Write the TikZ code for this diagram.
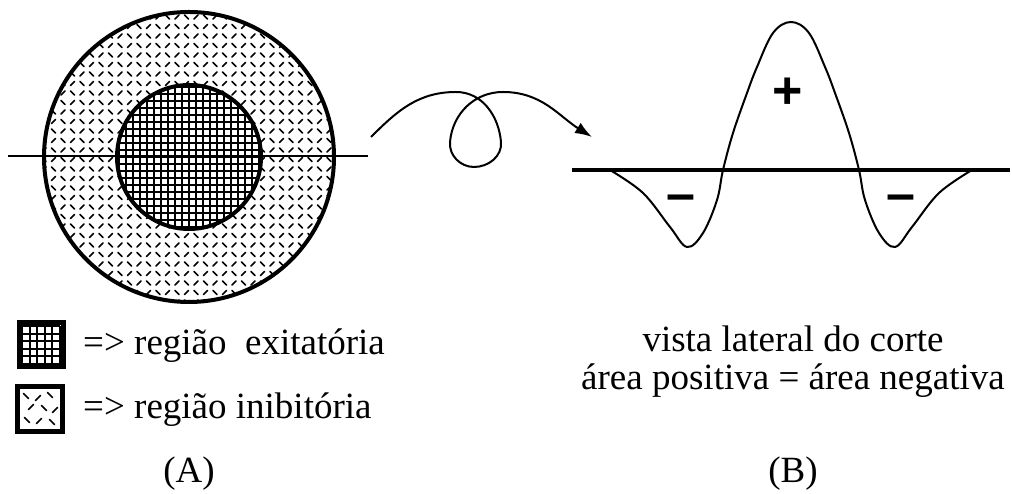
\documentclass[tikz,border=0pt]{standalone}
\usepackage{fontspec}
\setmainfont{Liberation Serif}
\newfontfamily\signfont{Liberation Sans}
\usetikzlibrary{arrows.meta,positioning}

\begin{document}
\begin{tikzpicture}[
		x=1pt,y=1pt,
		ring/.style={draw,line width=4pt},
		cut/.style={line width=1.4pt},
		gridline/.style={line width=1.6pt},
		dashmark/.style={line width=1.7pt,line cap=round},
		legendbox/.style={draw,line width=5pt,minimum size=44pt,inner sep=0pt},
		caption/.style={font=\fontsize{37}{44}\selectfont,inner sep=0pt},
		sign/.style={font=\signfont\bfseries\fontsize{52}{52}\selectfont,inner sep=0pt},
		curve/.style={line width=2pt},
		>={Latex[length=17pt,width=12pt]}
	]
	\useasboundingbox (0,0) rectangle (1012,494);

	% (A) receptive field
	\coordinate (field) at (189,337);
	\begin{scope}
		\clip (field) circle (144);
		\foreach \i in {0,...,31}
		\foreach \j in {0,...,31}{
			\ifodd\numexpr\i+\j\relax
				\draw[dashmark] ({44+\i*9.5-2},{192+\j*9.5+2}) -- ++(4,-4);
			\else
				\draw[dashmark] ({44+\i*9.5-2},{192+\j*9.5-2}) -- ++(4,4);
			\fi
		}
	\end{scope}
	\fill[white] (field) circle (72);
	\begin{scope}
		\clip (field) circle (72);
		\draw[gridline,shift={(field)}] (-84,-84) grid[step=7] (84,84);
	\end{scope}
	\draw[ring] (field) circle (72);
	\draw[ring] (field) circle (145);
	\coordinate (cutL) at (8,338);
	\coordinate (cutR) at (368,338);
	\draw[cut] (cutL) -- (cutR);

	% legend
	\node[legendbox] (exc) at (41,149) {};
	\draw[gridline,line width=2pt,shift={(22,130)}] (0,0) grid[step=7.6] (38,38);
	\node[legendbox,minimum size=45pt] (inh) at (40,85) {};
	\foreach \px/\py/\d in {26/98/1,38/96/0,50/99/1,31/87/0,44/86/1,55/84/0,27/74/1,39/73/0,52/72/1}{
		\ifnum\d=1
			\draw[dashmark] (\px-2.5,\py+2.5) -- ++(5,-5);
		\else
			\draw[dashmark] (\px-2.5,\py-2.5) -- ++(5,5);
		\fi
	}
	\node[caption,anchor=base west] (exctext) at (83,139) {=> região\ \ exitatória};
	\node[caption,anchor=base west] (inhtext) at (83,75) {=> região inibitória};
	\node[caption,anchor=base] (labA) at (189,11) {(A)};

	% arrow with loop
	\coordinate (arrowstart) at (371,357);
	\coordinate (arrowend) at (592,357);
	\draw[curve,->] (arrowstart) to[out=45,in=180] (456,402)
		to[out=0,in=95] (501,352) to[out=-85,in=0] (474,327)
		to[out=180,in=-95] (450,352) to[out=85,in=180] (503,402)
		to[out=0,in=148] (arrowend);

	% (B) side view
	\coordinate (axisL) at (572,324);
	\coordinate (axisR) at (1010,324);
	\draw[curve] plot[smooth,tension=0.6] coordinates {
		(610,324) (643,301) (670,267) (687,247) (703,261) (717,294) (723,324)
		(733,361) (747,401) (757,427) (773,461) (791,472) (809,461) (825,427)
		(835,401) (849,361) (859,324) (865,294) (879,261) (895,247) (912,267)
		(939,301) (972,324)};
	\draw[line width=4pt] (axisL) -- (axisR);
	\node[sign] (plus) at (788,401) {+};
	\node[sign] (minusL) at (681,291) {–};
	\node[sign] (minusR) at (901,291) {–};

	\node[caption,anchor=base] (view) at (793,142) {vista lateral do corte};
	\node[caption,anchor=base] (area) at (793,104) {área positiva = área negativa};
	\node[caption,anchor=base] (labB) at (793,11) {(B)};
\end{tikzpicture}
\end{document}
